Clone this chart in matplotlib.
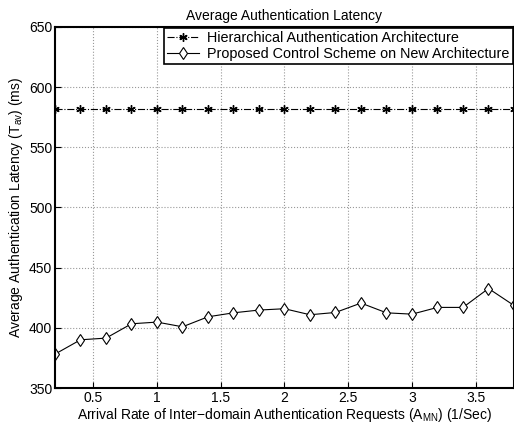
import matplotlib
matplotlib.use('Agg')
import matplotlib.pyplot as plt

plt.rcParams['font.family'] = ['Liberation Sans', 'DejaVu Sans']
plt.rcParams['mathtext.fontset'] = 'custom'
plt.rcParams['mathtext.rm'] = 'Liberation Sans'
plt.rcParams['mathtext.it'] = 'Liberation Sans'

# data
rate = [0.2, 0.4, 0.6, 0.8, 1.0, 1.2, 1.4, 1.6, 1.8, 2.0,
        2.2, 2.4, 2.6, 2.8, 3.0, 3.2, 3.4, 3.6, 3.8]
hier = [582] * 19
proposed = [378.2, 390.1, 391.5, 403.4, 404.8, 400.9, 409.2, 412.5, 414.8, 415.9,
            410.9, 412.8, 420.6, 412.5, 411.4, 417.0, 417.0, 432.7, 418.6]
xticks = [0.5, 1, 1.5, 2, 2.5, 3, 3.5]
yticks = [350, 400, 450, 500, 550, 600, 650]

fig = plt.figure(figsize=(5.14, 4.26), dpi=100)
ax = fig.add_axes([0.107, 0.089, 0.893, 0.848])

ax.plot(rate, hier, 'k-.', marker=(6, 2, 0), markersize=6, markeredgewidth=1.0,
        linewidth=0.8, label='Hierarchical Authentication Architecture')
ax.plot(rate, proposed, 'k-', marker='d', markersize=6.5, markerfacecolor='white',
        markeredgewidth=0.8, linewidth=0.8,
        label='Proposed Control Scheme on New Architecture')

ax.set_xlim(0.2, 3.8)
ax.set_ylim(350, 650)
ax.set_xticks(xticks)
ax.set_xticklabels(['0.5', '1', '1.5', '2', '2.5', '3', '3.5'])
ax.set_yticks(yticks)
ax.tick_params(direction='in', labelsize=10, pad=2, length=4)
ax.grid(True, linestyle=':', color='#999999', linewidth=0.8)
for s in ax.spines.values():
    s.set_linewidth(1.5)

ax.set_title('Average Authentication Latency', fontsize=10, pad=5)
ax.set_xlabel(r'Arrival Rate of Inter$-$domain Authentication Requests (A$_{\mathregular{MN}}$) (1/Sec)',
              fontsize=10, labelpad=0.5)
ax.set_ylabel(r'Average Authentication Latency (T$_{\mathregular{av}}$) (ms)', fontsize=10, labelpad=3)

leg = ax.legend(loc='upper right', fontsize=10.4, fancybox=False, borderaxespad=0.1,
                handlelength=2.2, borderpad=0.2, labelspacing=0.1, handletextpad=0.6)
leg.get_frame().set_edgecolor('black')
leg.get_frame().set_linewidth(1.2)
leg.get_frame().set_alpha(1)

fig.savefig('out.png', dpi=100)
